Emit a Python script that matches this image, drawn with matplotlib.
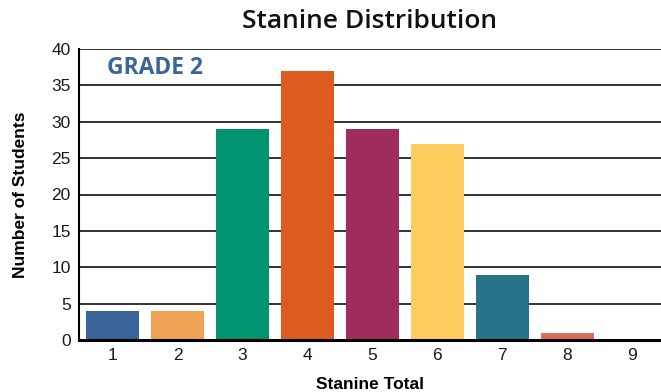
import matplotlib.pyplot as plt

stanines = [1, 2, 3, 4, 5, 6, 7, 8, 9]
students = [4, 4, 29, 37, 29, 27, 9, 1, 0]
bar_colors = ['#3a6399', '#efa254', '#009471', '#dd5a21', '#a02c5e',
              '#fdcc5f', '#27738a', '#dc6d5d', '#888888']
y_ticks = [0, 5, 10, 15, 20, 25, 30, 35, 40]

fig = plt.figure(figsize=(6.61, 3.92), dpi=100)
# axes box in pixels: left 79, right 661, top 49, bottom 340
ax = fig.add_axes([79 / 661, 1 - 340 / 392, (661 - 79) / 661, (340 - 49) / 392])

ax.bar(stanines, students, width=0.815, color=bar_colors, zorder=3)

ax.set_xlim(0.485, 9.44)
ax.set_ylim(0, 40)
ax.set_yticks(y_ticks)
ax.set_xticks(stanines)
ax.tick_params(length=0, labelsize=12.5, pad=6)
for lab in ax.get_xticklabels() + ax.get_yticklabels():
    lab.set_fontfamily('Liberation Sans')
    lab.set_color('#1a1a1a')

ax.grid(axis='y', color='#222222', linewidth=1.3, zorder=1)
for side in ['right', 'top']:
    ax.spines[side].set_visible(False)
ax.spines['left'].set_linewidth(1.5)
ax.spines['bottom'].set_linewidth(2.2)
ax.spines['bottom'].set_zorder(4)

ax.set_ylabel('Number of Students', fontfamily='Liberation Sans',
              fontweight='bold', fontsize=12.5, labelpad=17)
ax.set_xlabel('Stanine Total', fontfamily='Liberation Sans',
              fontweight='bold', fontsize=12.5, labelpad=10)

fig.text(369 / 661, 1 - 22 / 392, 'Stanine Distribution', ha='center', va='center',
         fontfamily='Open Sans', fontweight='semibold', fontsize=19, color='#111111')
ax.text(0.915, 37.4, 'GRADE 2', ha='left', va='center', fontfamily='Open Sans',
        fontweight='bold', fontsize=16.5, color='#3a6598', zorder=5)

fig.savefig('out.png', dpi=100)
